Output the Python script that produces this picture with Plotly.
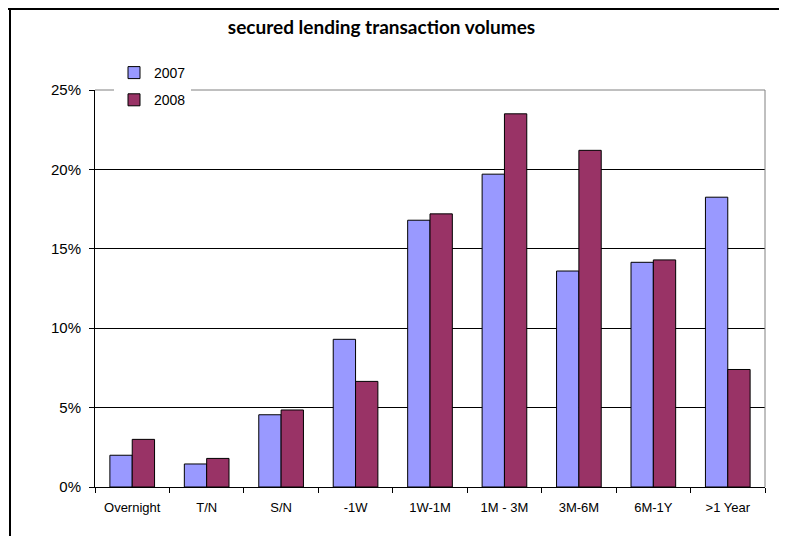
import plotly.graph_objects as go

categories = ["Overnight", "T/N", "S/N", "-1W", "1W-1M", "1M - 3M", "3M-6M", "6M-1Y", ">1 Year"]
vals_2007 = [2.0, 1.45, 4.55, 9.3, 16.8, 19.7, 13.6, 14.15, 18.25]
vals_2008 = [3.0, 1.8, 4.85, 6.65, 17.2, 23.5, 21.2, 14.3, 7.4]
y_ticks = [0, 5, 10, 15, 20, 25]
y_tick_labels = ["0%", "5%", "10%", "15%", "20%", "25%"]
title_text = "secured lending transaction volumes"

# the page body adds an 8px offset; work in screen pixels and convert
OFF = 8
W, H = 787 - OFF, 536 - OFF
L, R, T, B = 95 - OFF, 787 - 765, 90 - OFF, 536 - 487
pw, ph = W - L - R, H - T - B

def px_x(px):
    return (px - OFF - L) / pw

def px_y(py):
    return (H - B - (py - OFF)) / ph

fig = go.Figure()
fig.add_trace(go.Bar(
    x=categories, y=vals_2007, name="2007", legendgroup="a",
    marker=dict(color="#9999FF", line=dict(color="#000000", width=1)),
))
fig.add_trace(go.Bar(
    x=categories, y=vals_2008, name="2008", legendgroup="b",
    marker=dict(color="#993366", line=dict(color="#000000", width=1)),
))

shapes = [
    dict(type="line", xref="paper", yref="paper", x0=0, x1=1, y0=1, y1=1,
         line=dict(color="#808080", width=1), layer="above"),
    dict(type="line", xref="paper", yref="paper", x0=1, x1=1, y0=0, y1=1,
         line=dict(color="#808080", width=1), layer="above"),
    dict(type="line", xref="paper", yref="paper", x0=px_x(8), x1=px_x(782),
         y0=px_y(9), y1=px_y(9), line=dict(color="#000000", width=2)),
    dict(type="line", xref="paper", yref="paper", x0=px_x(10), x1=px_x(10),
         y0=px_y(9), y1=px_y(545), line=dict(color="#000000", width=2)),
]

fig.update_layout(
    width=W, height=H,
    margin=dict(l=L, r=R, t=T, b=B, pad=0),
    paper_bgcolor="white", plot_bgcolor="white",
    barmode="group", bargap=0.4, bargroupgap=0,
    font=dict(family="Liberation Sans, Arial, sans-serif", size=13, color="#000000"),
    title=dict(text="<b>" + title_text + "</b>", x=(381.5 - OFF) / W, xanchor="center",
               y=1 - (27 - OFF) / H, yanchor="middle", xref="container", yref="container",
               font=dict(family="Lato, sans-serif", size=19, color="#000000")),
    legend=dict(x=px_x(114), y=px_y(57), xanchor="left", yanchor="top",
                bgcolor="white", borderwidth=0, traceorder="grouped",
                tracegroupgap=6, font=dict(size=14)),
    shapes=shapes,
    xaxis=dict(showline=True, linecolor="#000000", linewidth=1,
               ticks="outside", ticklen=5, tickcolor="#000000",
               tickson="boundaries", showgrid=False, zeroline=False,
               ticklabelstandoff=8, tickfont=dict(size=13)),
    yaxis=dict(range=[0, 25], tickvals=y_ticks, ticktext=y_tick_labels,
               showline=True, linecolor="#000000", linewidth=1,
               ticks="outside", ticklen=5, tickcolor="#000000",
               showgrid=True, gridcolor="#000000", gridwidth=1,
               zeroline=False, ticklabelstandoff=5, tickfont=dict(size=15)),
)

fig.write_html("out.html")
